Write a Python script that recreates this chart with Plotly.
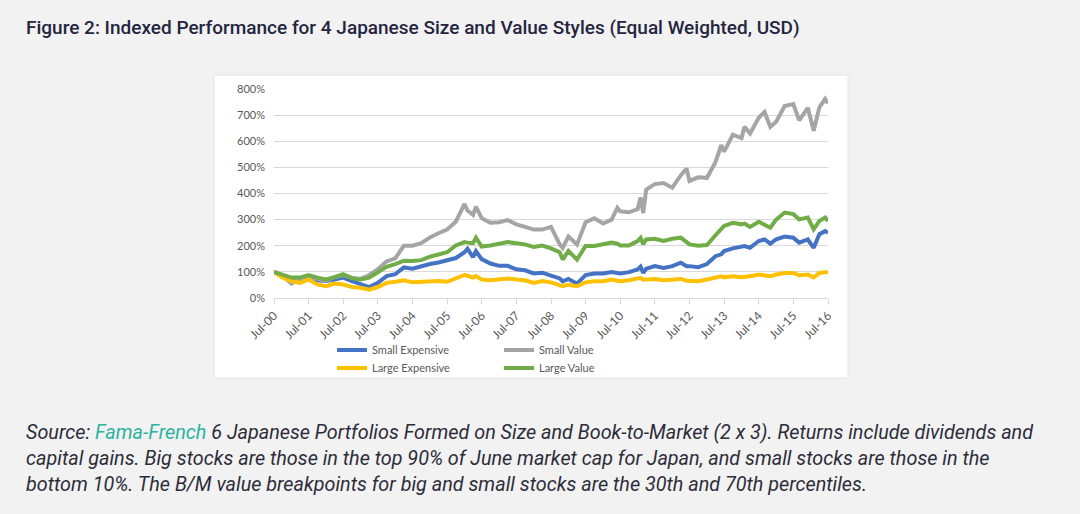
import pandas as pd
import plotly.graph_objects as go

### Data (% of Jul-00 level) ----------------------------------------------

months = ["2000-07", "2000-10",
          "2001-01", "2001-04", "2001-07", "2001-10",
          "2002-01", "2002-04", "2002-07", "2002-10",
          "2003-01", "2003-04", "2003-07", "2003-10",
          "2004-01", "2004-04", "2004-07", "2004-10",
          "2005-01", "2005-04", "2005-07", "2005-10",
          "2006-01", "2006-02", "2006-04", "2006-05", "2006-07", "2006-10",
          "2007-01", "2007-04", "2007-07", "2007-10",
          "2008-01", "2008-04", "2008-07", "2008-10", "2008-11",
          "2009-01", "2009-04", "2009-07", "2009-10",
          "2010-01", "2010-04", "2010-06", "2010-07", "2010-10",
          "2011-01", "2011-02", "2011-03", "2011-04", "2011-07", "2011-10",
          "2012-01", "2012-04", "2012-06", "2012-07", "2012-10",
          "2013-01", "2013-04", "2013-06", "2013-07", "2013-10",
          "2014-01", "2014-02", "2014-04", "2014-07", "2014-09", "2014-11",
          "2015-01", "2015-04", "2015-07", "2015-09", "2015-12",
          "2016-02", "2016-04", "2016-06", "2016-07"]

small_expensive = [100, 84,
                   65, 71, 80, 68,
                   65, 71, 78, 65,
                   52, 42, 58, 84,
                   91, 117, 112, 123,
                   130, 136, 143, 153,
                   175, 188, 156, 179, 149, 132,
                   123, 123, 110, 106,
                   94, 97, 86, 75, 64,
                   73, 55, 88, 94,
                   94, 99, 96, 94, 99,
                   109, 120, 96, 112, 122, 115,
                   122, 135, 122, 122, 118,
                   130, 160, 167, 180, 190,
                   195, 199, 192, 218, 224, 208,
                   225, 235, 231, 212, 224,
                   192, 244, 256, 250]

small_value = [100, 85,
               55, 72, 80, 74,
               66, 80, 88, 78,
               73, 88, 110, 140,
               152, 200, 200, 210,
               232, 248, 262, 292,
               360, 335, 318, 350, 305, 288,
               290, 298, 282, 272,
               262, 262, 272, 205, 192,
               235, 205, 290, 305,
               285, 300, 345, 332, 328,
               340, 385, 325, 415, 436, 440,
               422, 470, 495, 448, 462,
               460, 520, 585, 560, 625,
               612, 655, 630, 690, 712, 655,
               675, 735, 742, 680, 728,
               640, 730, 762, 745]

large_expensive = [100, 78,
                   65, 58, 71, 52,
                   45, 55, 52, 42,
                   39, 32, 42, 58,
                   62, 68, 60, 62,
                   62, 65, 62, 75,
                   88, 85, 78, 84, 71, 68,
                   71, 75, 71, 68,
                   58, 65, 60, 50, 45,
                   51, 45, 60, 64,
                   64, 71, 66, 64, 68,
                   73, 77, 70, 71, 73, 68,
                   71, 73, 66, 66, 64,
                   71, 78, 83, 79, 83,
                   79, 80, 83, 90, 87, 83,
                   90, 96, 96, 87, 90,
                   79, 96, 100, 100]

large_value = [100, 88,
               78, 78, 88, 78,
               71, 80, 91, 75,
               71, 78, 97, 119,
               130, 143, 142, 145,
               158, 166, 175, 201,
               214, 212, 210, 231, 197, 201,
               208, 214, 210, 205,
               195, 201, 190, 175, 147,
               180, 147, 199, 199,
               205, 212, 208, 201, 201,
               218, 230, 206, 224, 227, 218,
               227, 231, 212, 205, 200,
               203, 240, 265, 276, 288,
               282, 285, 272, 292, 282, 269,
               300, 327, 321, 301, 308,
               263, 295, 308, 295]

series_names = ["Small Expensive", "Small Value", "Large Expensive", "Large Value"]
series_colors = ["#4472C4", "#A5A5A5", "#FFC000", "#70AD47"]

tick_years = list(range(2000, 2017))

title_text = "Figure 2: Indexed Performance for 4 Japanese Size and Value Styles (Equal Weighted, USD)"
source_lines = [
    "Source: <span style='color:#2bb3a0'>Fama-French</span> 6 Japanese Portfolios Formed on Size and Book-to-Market (2 x 3). Returns include dividends and",
    "capital gains. Big stocks are those in the top 90% of June market cap for Japan, and small stocks are those in the",
    "bottom 10%. The B/M value breakpoints for big and small stocks are the 30th and 70th percentiles.",
]

### Figure ---------------------------------------------------------------

dates = pd.to_datetime([m + "-01" for m in months])
all_values = [small_expensive, small_value, large_expensive, large_value]
legend_ids = ["legend", "legend", "legend2", "legend2"]

fig = go.Figure()
for name, vals, col, lg in zip(series_names, all_values, series_colors, legend_ids):
    fig.add_trace(go.Scatter(x=dates, y=vals, mode="lines", name=name,
                             line=dict(color=col, width=4),
                             legend=lg, hoverinfo="skip"))

W, H = 1080, 514
L, R, T, B = 274, 828, 89, 298   # plot area in pixels
pw, ph = R - L, B - T

def px_x(x):
    return (x - L) / pw

def px_y(y):
    return (B - y) / ph

# white chart card
fig.add_shape(type="rect", xref="paper", yref="paper", layer="below",
              x0=px_x(214), x1=px_x(848), y0=px_y(378), y1=px_y(75),
              fillcolor="white", line=dict(color="#e4e4e4", width=1))

tickvals = pd.to_datetime([f"{y}-07-01" for y in tick_years])
ticktext = [f"Jul-{y % 100:02d}" for y in tick_years]

axis_font = dict(family="Lato, Carlito, sans-serif", size=11, color="#595959")
xtick_font = dict(family="Lato, Carlito, sans-serif", size=12, color="#595959")

fig.update_xaxes(type="date", range=[tickvals[0], tickvals[-1]],
                 tickvals=tickvals, ticktext=ticktext, tickangle=-45,
                 showgrid=False, showline=True, linecolor="#d9d9d9",
                 ticks="outside", ticklen=5, tickcolor="#d9d9d9",
                 tickfont=xtick_font, zeroline=False)
fig.update_yaxes(range=[0, 800], dtick=100, ticksuffix="%",
                 showgrid=True, gridcolor="#d9d9d9", gridwidth=1,
                 zeroline=False, showline=False, ticklabelstandoff=8,
                 tickfont=axis_font)

legend_common = dict(orientation="h", xanchor="left", yanchor="middle",
                     entrywidth=122, entrywidthmode="pixels",
                     bgcolor="rgba(0,0,0,0)", font=axis_font,
                     itemclick=False, itemdoubleclick=False)

fig.update_layout(
    width=W, height=H,
    margin=dict(l=L, r=W - R, t=T, b=H - B, autoexpand=False),
    paper_bgcolor="#f2f2f2", plot_bgcolor="white",
    showlegend=True,
    legend=dict(x=px_x(332), y=px_y(350), **legend_common),
    legend2=dict(x=px_x(332), y=px_y(368), **legend_common),
)

fig.add_annotation(text=title_text, xref="paper", yref="paper",
                   x=px_x(24), y=px_y(27), xanchor="left", yanchor="middle",
                   showarrow=False,
                   font=dict(family="Roboto, sans-serif", size=19, weight=500,
                             color="#25253f"))

for i, line in enumerate(source_lines):
    fig.add_annotation(text="<i>" + line + "</i>", xref="paper", yref="paper",
                       x=px_x(24), y=px_y(432 + 26 * i), xanchor="left", yanchor="middle",
                       showarrow=False, align="left",
                       font=dict(family="Roboto, sans-serif", size=19.8, color="#2d2d3a"))

# page has a default 8px body margin; drop it so the figure sits at 0,0
fig.write_html("out.html", config={"displayModeBar": False},
               post_script="document.body.style.margin='0';")
